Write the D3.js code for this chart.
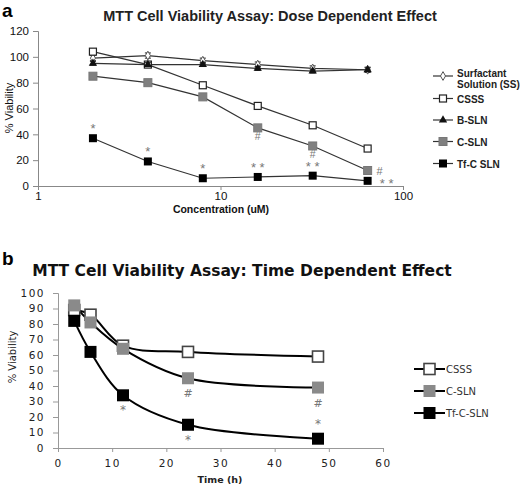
<!DOCTYPE html>
<html><head><meta charset="utf-8">
<script src="https://cdn.jsdelivr.net/npm/d3@7"></script>
<style>body{margin:0;background:#fff}svg{display:block}</style>
</head><body><svg id="c" width="520" height="486"></svg>
<script>
// ---- Panel a data ----
const concentrations = [2, 4, 8, 16, 32, 64];
const ssValues   = [99, 101, 97, 94, 91, 90];
const csssValues = [104, 94, 78, 62, 47, 29];
const bslnValues = [95, 94, 94, 91, 89, 90];
const cslnValues = [85, 80, 69, 45, 31, 12];
const tfValues   = [37, 19, 6, 7, 8, 4];
const doseSeriesNames = ["Surfactant Solution (SS)", "CSSS", "B-SLN", "C-SLN", "Tf-C SLN"];
const doseYTicks = [0, 20, 40, 60, 80, 100, 120];
const doseXTicks = [1, 10, 100];
// ---- Panel b data ----
const times = [3, 6, 12, 24, 48];
const csssTime = [89, 86, 66, 62, 59];
const cslnTime = [92, 81, 64, 45, 39];
const tfTime   = [82, 62, 34, 15, 6];
const timeSeriesNames = ["CSSS", "C-SLN", "Tf-C-SLN"];
const timeYTicks = [0,10,20,30,40,50,60,70,80,90,100];
const timeXTicks = [0,10,20,30,40,50,60];

const svg = d3.select("#c");
const AR = "Liberation Sans, Arial, sans-serif";
const VD = "DejaVu Sans, Verdana, sans-serif";

// ================= Panel a =================
const xa = d3.scaleLog().domain([1, 100]).range([38, 403]);
const ya = d3.scaleLinear().domain([0, 120]).range([186, 31]);
const ga = svg.append("g");
ga.append("text").attr("x", 2).attr("y", 17).attr("font-family", AR).attr("font-weight", "bold").attr("font-size", 19).text("a");
ga.append("text").attr("x", 270).attr("y", 21).attr("text-anchor", "middle").attr("font-family", AR)
  .attr("font-weight", "bold").attr("font-size", 14.5).attr("fill", "#222").text("MTT Cell Viability Assay: Dose Dependent Effect");

const axYa = ga.append("g").attr("transform", "translate(38,0)")
  .call(d3.axisLeft(ya).tickValues(doseYTicks).tickSize(5).tickPadding(4));
const axXa = ga.append("g").attr("transform", "translate(0,186)")
  .call(d3.axisBottom(xa).tickValues(doseXTicks).tickFormat(d3.format("d")).tickSize(4).tickPadding(2));
[axYa, axXa].forEach(a => {
  a.select(".domain").attr("stroke", "#888");
  a.selectAll(".tick line").attr("stroke", "#888");
  a.selectAll("text").attr("font-family", AR).attr("font-size", 11.5).attr("fill", "#111");
});
ga.append("text").attr("transform", "translate(13,108) rotate(-90)").attr("text-anchor", "middle")
  .attr("font-family", AR).attr("font-size", 11).attr("fill", "#111").text("% Viability");
ga.append("text").attr("x", 221).attr("y", 213).attr("text-anchor", "middle").attr("font-family", AR)
  .attr("font-weight", "bold").attr("font-size", 10.5).attr("fill", "#111").text("Concentration (uM)");

const lineA = d3.line().x((d, i) => xa(concentrations[i])).y(d => ya(d));
const doseData = [ssValues, csssValues, bslnValues, cslnValues, tfValues];
const doseErr = [2, 1.5, 1.5, 1, 1];
const doseMarkers = ["diamond", "openSquare", "triangle", "greySquare", "blackSquare"];

function drawMarker(g, type, cx, cy) {
  if (type === "diamond") {
    g.append("path").attr("d", d3.symbol(d3.symbolDiamond, 22)()).attr("transform", `translate(${cx},${cy})`)
      .attr("fill", "#fff").attr("stroke", "#555").attr("stroke-width", 1);
  } else if (type === "openSquare") {
    g.append("rect").attr("x", cx - 3.5).attr("y", cy - 3.5).attr("width", 7).attr("height", 7)
      .attr("fill", "#fff").attr("stroke", "#222").attr("stroke-width", 1.2);
  } else if (type === "triangle") {
    g.append("path").attr("d", d3.symbol(d3.symbolTriangle, 30)()).attr("transform", `translate(${cx},${cy})`)
      .attr("fill", "#111");
  } else if (type === "greySquare") {
    g.append("rect").attr("x", cx - 4).attr("y", cy - 4).attr("width", 8).attr("height", 8)
      .attr("fill", "#808080").attr("stroke", "#777");
  } else if (type === "blackSquare") {
    g.append("rect").attr("x", cx - 4).attr("y", cy - 4).attr("width", 8).attr("height", 8).attr("fill", "#000");
  } else if (type === "openSquareB") {
    g.append("rect").attr("x", cx - 5.5).attr("y", cy - 5.5).attr("width", 11).attr("height", 11)
      .attr("fill", "#fff").attr("stroke", "#444").attr("stroke-width", 1.6);
  } else if (type === "greySquareB") {
    g.append("rect").attr("x", cx - 6).attr("y", cy - 6).attr("width", 12).attr("height", 12).attr("fill", "#8a8a8a");
  } else if (type === "blackSquareB") {
    g.append("rect").attr("x", cx - 6).attr("y", cy - 6).attr("width", 12).attr("height", 12).attr("fill", "#000");
  }
}

doseData.forEach((vals, s) => {
  ga.append("path").attr("d", lineA(vals)).attr("fill", "none").attr("stroke", "#333").attr("stroke-width", 1.2);
});
doseData.forEach((vals, s) => {
  vals.forEach((v, i) => {
    const cx = xa(concentrations[i]), cy = ya(v);
    const e = doseErr[s];
    const eg = ga.append("g").attr("stroke", "#222").attr("stroke-width", 1);
    eg.append("line").attr("x1", cx).attr("x2", cx).attr("y1", ya(v + e)).attr("y2", ya(v - e));
    eg.append("line").attr("x1", cx - 3).attr("x2", cx + 3).attr("y1", ya(v + e)).attr("y2", ya(v + e));
    eg.append("line").attr("x1", cx - 3).attr("x2", cx + 3).attr("y1", ya(v - e)).attr("y2", ya(v - e));
    drawMarker(ga, doseMarkers[s], cx, cy);
  });
});
// significance marks panel a
const markA = ga.append("g").attr("font-family", AR).attr("font-size", 13).attr("fill", "#777").attr("text-anchor", "middle");
[[0, "*"], [1, "*"], [2, "*"], [3, "* *"], [4, "* *"]].forEach(([i, t]) => {
  markA.append("text").attr("x", xa(concentrations[i])).attr("y", ya(tfValues[i]) - 5).text(t);
});
markA.append("text").attr("x", xa(64) + 19).attr("y", ya(tfValues[5]) + 7).text("* *");
[3, 4].forEach(i => {
  markA.append("text").attr("x", xa(concentrations[i])).attr("y", ya(cslnValues[i]) + 12).attr("font-size", 10.5).text("#");
});
markA.append("text").attr("x", xa(64) + 12).attr("y", ya(cslnValues[5]) + 4).attr("font-size", 11).text("#");

// legend a
const legA = ga.append("g").attr("font-family", AR).attr("font-size", 10).attr("font-weight", "bold").attr("fill", "#222");
const legAy = [76, 98.5, 120, 141.5, 163.5];
doseSeriesNames.forEach((n, s) => {
  const y = legAy[s];
  legA.append("line").attr("x1", 433).attr("x2", 453).attr("y1", y).attr("y2", y).attr("stroke", "#333").attr("stroke-width", 1.2);
  drawMarker(legA, doseMarkers[s], 443, y);
  if (s === 0) {
    legA.append("text").attr("x", 457).attr("y", y + 1).text("Surfactant");
    legA.append("text").attr("x", 457).attr("y", y + 12).text("Solution (SS)");
  } else {
    legA.append("text").attr("x", 457).attr("y", y + 4).text(n);
  }
});

// ================= Panel b =================
const xb = d3.scaleLinear().domain([0, 60]).range([58, 383]);
const yb = d3.scaleLinear().domain([0, 100]).range([448, 293]);
const gb = svg.append("g");
gb.append("text").attr("x", 2).attr("y", 265).attr("font-family", AR).attr("font-weight", "bold").attr("font-size", 19).text("b");
gb.append("text").attr("x", 242).attr("y", 276).attr("text-anchor", "middle").attr("font-family", VD)
  .attr("font-weight", "bold").attr("font-size", 15.5).attr("fill", "#111").text("MTT Cell Viability Assay: Time Dependent Effect");

const axYb = gb.append("g").attr("transform", "translate(58,0)")
  .call(d3.axisLeft(yb).tickValues(timeYTicks).tickSize(5).tickPadding(8));
const axXb = gb.append("g").attr("transform", "translate(0,448)")
  .call(d3.axisBottom(xb).tickValues(timeXTicks).tickSize(4).tickPadding(8));
[axYb, axXb].forEach(a => {
  a.select(".domain").attr("stroke", "#999");
  a.selectAll(".tick line").attr("stroke", "#999");
  a.selectAll("text").attr("font-family", VD).attr("font-size", 10.5).attr("letter-spacing", 1.5).attr("fill", "#222");
});
gb.append("text").attr("transform", "translate(16,357) rotate(-90)").attr("text-anchor", "middle")
  .attr("font-family", VD).attr("font-size", 10).attr("fill", "#222").text("% Viability");
gb.append("text").attr("x", 220).attr("y", 483).attr("text-anchor", "middle").attr("font-family", VD)
  .attr("font-weight", "bold").attr("font-size", 9.5).attr("fill", "#222").text("Time (h)");

const lineB = d3.line().x((d, i) => xb(times[i])).y(d => yb(d)).curve(d3.curveCatmullRom.alpha(0.5));
const timeData = [csssTime, cslnTime, tfTime];
const timeMarkers = ["openSquareB", "greySquareB", "blackSquareB"];
timeData.forEach(vals => {
  gb.append("path").attr("d", lineB(vals)).attr("fill", "none").attr("stroke", "#000").attr("stroke-width", 2);
});
timeData.forEach((vals, s) => {
  vals.forEach((v, i) => drawMarker(gb, timeMarkers[s], xb(times[i]), yb(v)));
});
const markB = gb.append("g").attr("font-family", VD).attr("font-size", 12).attr("fill", "#777").attr("text-anchor", "middle");
markB.append("text").attr("x", xb(12)).attr("y", yb(tfTime[2]) + 19).text("*");
markB.append("text").attr("x", xb(24)).attr("y", yb(tfTime[3]) + 19).text("*");
markB.append("text").attr("x", xb(48)).attr("y", yb(tfTime[4]) - 11).text("*");
markB.append("text").attr("x", xb(24)).attr("y", yb(cslnTime[3]) + 19).attr("font-size", 11).text("#");
markB.append("text").attr("x", xb(48)).attr("y", yb(cslnTime[4]) + 19).attr("font-size", 11).text("#");

const legB = gb.append("g").attr("font-family", VD).attr("font-size", 10).attr("fill", "#333");
const legBy = [369, 391, 413];
timeSeriesNames.forEach((n, s) => {
  const y = legBy[s];
  legB.append("line").attr("x1", 414).attr("x2", 445).attr("y1", y).attr("y2", y).attr("stroke", "#000").attr("stroke-width", 2);
  drawMarker(legB, timeMarkers[s], 429.5, y);
  legB.append("text").attr("x", 446).attr("y", y + 4).text(n);
});
</script></body></html>
